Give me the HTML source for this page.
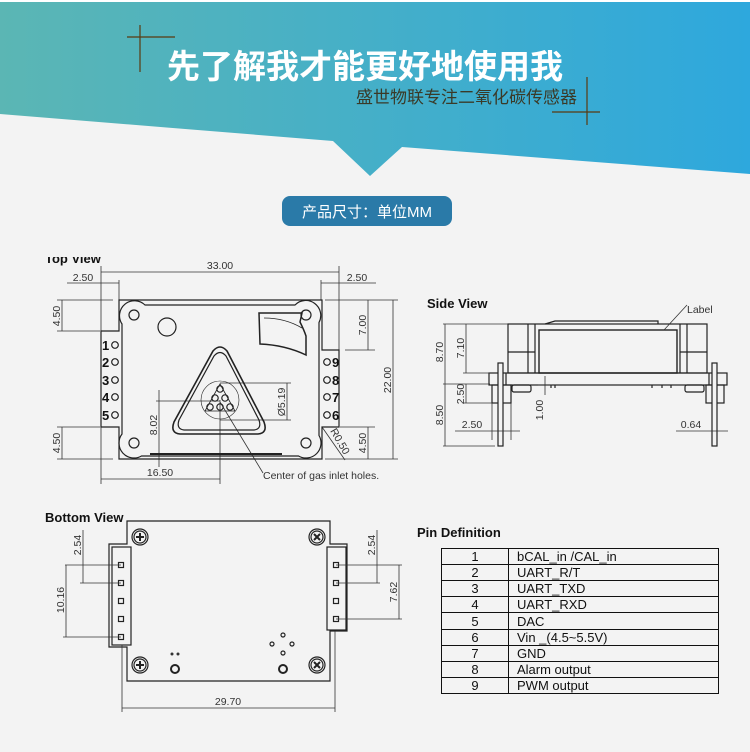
<!DOCTYPE html>
<html><head><meta charset="utf-8"><style>
html,body{margin:0;padding:0;background:#f3f3f3;}
svg{display:block;}
.d{font-family:"Liberation Sans",sans-serif;font-size:10.5px;fill:#333;}
.b{font-family:"Liberation Sans",sans-serif;font-weight:bold;fill:#111;}
.l{stroke:#333;stroke-width:0.8;fill:none;}
.o{stroke:#222;stroke-width:1.2;fill:none;}
</style></head><body>
<svg width="750" height="752" viewBox="0 0 750 752" xmlns="http://www.w3.org/2000/svg">
<defs>
<linearGradient id="g" x1="0" x2="1" y1="0" y2="0"><stop offset="0" stop-color="#5bb6b4"/><stop offset="1" stop-color="#2ea8dd"/></linearGradient>
</defs>
<rect width="750" height="752" fill="#f3f3f3"/>
<path d="M0,2 H750 V174 L402,147 L370,176 L333,141 L0,114 Z" fill="url(#g)"/>
<rect width="750" height="2" fill="#fff"/>
<g stroke="#5a3a10" stroke-width="1.2">
<line x1="140" y1="25" x2="140" y2="72"/><line x1="127" y1="37" x2="175" y2="37"/>
<line x1="587" y1="77" x2="587" y2="125"/><line x1="552" y1="112" x2="600" y2="112"/>
</g>
<text x="365" y="78" text-anchor="middle" font-family="'Liberation Sans','Noto Sans CJK SC',sans-serif" font-weight="bold" font-size="33" fill="#fff">先了解我才能更好地使用我</text>
<text x="577" y="103" text-anchor="end" font-family="'Liberation Sans','Noto Sans CJK SC',sans-serif" font-size="17" fill="#3a3a28">盛世物联专注二氧化碳传感器</text>
<rect x="282" y="196" width="170" height="30" rx="8" fill="#2a7aa8"/>
<text x="367" y="217" text-anchor="middle" font-family="'Liberation Sans','Noto Sans CJK SC',sans-serif" font-size="15" fill="#fff">产品尺寸：单位MM</text>

<!-- TOP VIEW -->
<text class="b" x="45" y="263" font-size="13">Top View</text>
<rect x="40" y="240" width="80" height="17" fill="#f3f3f3"/>
<g class="l">
<line x1="101" y1="272" x2="339" y2="272"/>
<line x1="101" y1="266" x2="101" y2="332"/><line x1="101" y1="427" x2="101" y2="484"/>
<line x1="339" y1="266" x2="339" y2="350"/>
<line x1="67" y1="283" x2="119" y2="283"/><line x1="119" y1="280" x2="119" y2="300"/>
<line x1="321" y1="283" x2="376" y2="283"/><line x1="321" y1="280" x2="321" y2="300"/>
<line x1="62" y1="300" x2="62" y2="331"/><line x1="57" y1="300" x2="113" y2="300"/><line x1="57" y1="331" x2="100" y2="331"/>
<line x1="62" y1="427" x2="62" y2="459"/><line x1="57" y1="427" x2="100" y2="427"/><line x1="57" y1="459" x2="113" y2="459"/>
<line x1="368" y1="300" x2="368" y2="350"/><line x1="325" y1="300" x2="398" y2="300"/><line x1="345" y1="350" x2="375" y2="350"/>
<line x1="393" y1="300" x2="393" y2="459"/>
<line x1="368" y1="427" x2="368" y2="459"/><line x1="340" y1="427" x2="375" y2="427"/><line x1="325" y1="459" x2="398" y2="459"/>
<line x1="287" y1="383" x2="287" y2="420"/><line x1="220" y1="383" x2="291" y2="383"/><line x1="220" y1="420" x2="291" y2="420"/>
<line x1="159" y1="390" x2="159" y2="467"/><line x1="156" y1="401" x2="220" y2="401"/>
<line x1="101" y1="479" x2="220" y2="479"/><line x1="220" y1="400" x2="220" y2="484"/>
<line x1="220" y1="402" x2="263" y2="473"/>
<line x1="322" y1="427" x2="345" y2="460"/>
</g>
<text class="d" x="220" y="269" text-anchor="middle">33.00</text>
<text class="d" x="83" y="281" text-anchor="middle">2.50</text>
<text class="d" x="357" y="281" text-anchor="middle">2.50</text>
<text class="d" transform="translate(60,316) rotate(-90)" text-anchor="middle">4.50</text>
<text class="d" transform="translate(60,443) rotate(-90)" text-anchor="middle">4.50</text>
<text class="d" transform="translate(366,325) rotate(-90)" text-anchor="middle">7.00</text>
<text class="d" transform="translate(391,380) rotate(-90)" text-anchor="middle">22.00</text>
<text class="d" transform="translate(366,443) rotate(-90)" text-anchor="middle">4.50</text>
<text class="d" transform="translate(285,402) rotate(-90)" text-anchor="middle">Ø5.19</text>
<text class="d" transform="translate(157,425) rotate(-90)" text-anchor="middle">8.02</text>
<text class="d" transform="translate(337,443) rotate(60)" text-anchor="middle">R0.50</text>
<text class="d" x="160" y="476" text-anchor="middle">16.50</text>
<text class="d" x="263" y="479" font-size="12.5">Center of gas inlet holes.</text>
<path class="o" d="M119,300 H322 V350 H339 V427 H322 V459 H119 V427 H101 V331 H119 Z"/>
<path class="o" d="M145,305 H295 A15,15 0 0 1 319,322.5 V435.5 A15,15 0 0 1 298.5,456 H141.5 A15,15 0 0 1 122,434 V324 A15,15 0 0 1 145,305 Z"/>
<line x1="150" y1="454" x2="282" y2="454" stroke="#222" stroke-width="2"/>
<g class="o">
<circle cx="134" cy="315" r="5"/><circle cx="306" cy="315" r="5"/><circle cx="134" cy="443" r="5"/><circle cx="306" cy="443" r="5"/>
<circle cx="167" cy="327" r="9"/>
<path d="M259,313 H302 L300,322 Q304,330 306,336 V355 Q285,345 260,344 Z" stroke-width="1.5"/>
<path d="M264,318 Q285,318 302,328" stroke-width="0.8"/>
<path d="M213,351 Q220,343 227,351 L264,422 Q268,433 258,434 H180 Q170,433 174,422 Z" stroke-width="1.6"/>
<path d="M214,356 Q220,349 226,356 L259,420 Q262,429 254,430 H184 Q176,429 179,420 Z" stroke-width="1.2"/>
<circle cx="220" cy="400" r="19" stroke-width="0.6"/>
<path d="M220,384 L235,411 H205 Z" stroke-width="0.8"/>
<circle cx="220" cy="389" r="3.2"/><circle cx="215" cy="398" r="3.2"/><circle cx="225" cy="398" r="3.2"/>
<circle cx="210" cy="407" r="3.2"/><circle cx="220" cy="407" r="3.2"/><circle cx="230" cy="407" r="3.2"/>
</g>
<g class="b" font-size="13">
<text x="102" y="350">1</text><text x="102" y="367">2</text><text x="102" y="385">3</text><text x="102" y="402">4</text><text x="102" y="420">5</text>
<text x="332" y="367">9</text><text x="332" y="385">8</text><text x="332" y="402">7</text><text x="332" y="420">6</text>
</g>
<g class="o" stroke-width="1.4">
<circle cx="115" cy="345" r="3.3"/><circle cx="115" cy="362" r="3.3"/><circle cx="115" cy="380" r="3.3"/><circle cx="115" cy="397" r="3.3"/><circle cx="115" cy="415" r="3.3"/>
<circle cx="327" cy="362" r="3.3"/><circle cx="327" cy="380" r="3.3"/><circle cx="327" cy="397" r="3.3"/><circle cx="327" cy="415" r="3.3"/>
</g>

<!-- SIDE VIEW -->
<text class="b" x="427" y="308" font-size="13">Side View</text>
<g class="o">
<rect x="508" y="324" width="199" height="49"/>
<line x1="528" y1="324" x2="528" y2="373"/><line x1="535" y1="324" x2="535" y2="373"/>
<line x1="680" y1="324" x2="680" y2="373"/><line x1="687" y1="324" x2="687" y2="373"/>
<rect x="539" y="330" width="138" height="43" stroke-width="1.4"/>
<line x1="508" y1="352" x2="535" y2="352"/><line x1="680" y1="352" x2="707" y2="352"/>
<path d="M545,324 L555,321 H658 V324"/>
<rect x="489" y="373" width="238" height="12"/>
<line x1="506" y1="373" x2="506" y2="385"/><line x1="709" y1="373" x2="709" y2="385"/>
<rect x="492" y="385" width="19" height="18"/><rect x="706" y="385" width="18" height="18"/>
<rect x="498" y="363" width="5" height="83" fill="#f3f3f3"/><rect x="712" y="363" width="5" height="83" fill="#f3f3f3"/>
<rect x="512" y="385" width="19" height="7" rx="2"/><rect x="685" y="385" width="19" height="7" rx="2"/>
<path d="M551,385v3M555,385v3M652,385v3M662,385v3M671,385v3"/>
</g>
<g class="l">
<line x1="443" y1="324" x2="508" y2="324"/><line x1="463" y1="373" x2="490" y2="373"/>
<line x1="443" y1="384" x2="490" y2="384"/><line x1="463" y1="403" x2="492" y2="403"/>
<line x1="443" y1="446" x2="495" y2="446"/>
<line x1="445" y1="324" x2="445" y2="446"/><line x1="466" y1="324" x2="466" y2="373"/><line x1="466" y1="384" x2="466" y2="403"/>
<line x1="545" y1="376" x2="545" y2="395"/><line x1="538" y1="385" x2="552" y2="385"/>
<line x1="455" y1="431" x2="520" y2="431"/><line x1="492" y1="403" x2="492" y2="440"/><line x1="511" y1="403" x2="511" y2="440"/>
<line x1="676" y1="431" x2="728" y2="431"/>
<line x1="664" y1="330" x2="687" y2="305"/>
</g>
<text class="d" transform="translate(443,352) rotate(-90)" text-anchor="middle">8.70</text>
<text class="d" transform="translate(464,348) rotate(-90)" text-anchor="middle">7.10</text>
<text class="d" transform="translate(464,394) rotate(-90)" text-anchor="middle">2.50</text>
<text class="d" transform="translate(443,415) rotate(-90)" text-anchor="middle">8.50</text>
<text class="d" transform="translate(543,410) rotate(-90)" text-anchor="middle">1.00</text>
<text class="d" x="472" y="428" text-anchor="middle">2.50</text>
<text class="d" x="691" y="428" text-anchor="middle">0.64</text>
<text class="d" x="687" y="313" font-size="12">Label</text>

<!-- BOTTOM VIEW -->
<text class="b" x="45" y="522" font-size="13">Bottom View</text>
<path class="o" d="M127,521 H330 V544 H347 V631 H330 V681 H127 V647 H109 V544 H127 Z"/>
<rect class="o" x="112" y="547" width="19" height="98"/>
<rect class="o" x="327" y="547" width="19" height="83"/>
<g class="o" stroke-width="1">
<rect x="118.5" y="562.5" width="5" height="5"/><rect x="118.5" y="580.5" width="5" height="5"/><rect x="118.5" y="598.5" width="5" height="5"/><rect x="118.5" y="616.5" width="5" height="5"/><rect x="118.5" y="634.5" width="5" height="5"/>
<rect x="333.5" y="562.5" width="5" height="5"/><rect x="333.5" y="580.5" width="5" height="5"/><rect x="333.5" y="598.5" width="5" height="5"/><rect x="333.5" y="616.5" width="5" height="5"/>
<circle cx="140" cy="537" r="8"/><circle cx="140" cy="537" r="6"/><path d="M136,537h8M140,533v8" stroke-width="2"/>
<circle cx="140" cy="665" r="8"/><circle cx="140" cy="665" r="6"/><path d="M136,665h8M140,661v8" stroke-width="2"/>
<circle cx="317" cy="537" r="8"/><circle cx="317" cy="537" r="6"/><path d="M314,534l6,6M320,534l-6,6" stroke-width="2"/>
<circle cx="317" cy="665" r="8"/><circle cx="317" cy="665" r="6"/><path d="M314,662l6,6M320,662l-6,6" stroke-width="2"/>
<circle cx="283" cy="635" r="2"/><circle cx="272" cy="644" r="2"/><circle cx="292" cy="644" r="2"/><circle cx="283" cy="653" r="2"/>
<circle cx="175" cy="669" r="4" stroke-width="2"/><circle cx="283" cy="669" r="4" stroke-width="2"/>
</g>
<circle cx="172" cy="654" r="1.5" fill="#333"/><circle cx="178" cy="654" r="1.5" fill="#333"/>
<g class="l">
<line x1="83" y1="530" x2="83" y2="583"/><line x1="65" y1="565" x2="121" y2="565"/><line x1="80" y1="583" x2="121" y2="583"/>
<line x1="66" y1="565" x2="66" y2="637"/><line x1="63" y1="637" x2="121" y2="637"/>
<line x1="377" y1="530" x2="377" y2="583"/><line x1="336" y1="565" x2="402" y2="565"/><line x1="336" y1="583" x2="380" y2="583"/>
<line x1="399" y1="565" x2="399" y2="619"/><line x1="336" y1="619" x2="402" y2="619"/>
<line x1="122" y1="708" x2="335" y2="708"/><line x1="122" y1="645" x2="122" y2="712"/><line x1="335" y1="631" x2="335" y2="712"/>
</g>
<text class="d" transform="translate(81,545) rotate(-90)" text-anchor="middle">2.54</text>
<text class="d" transform="translate(64,600) rotate(-90)" text-anchor="middle">10.16</text>
<text class="d" transform="translate(375,545) rotate(-90)" text-anchor="middle">2.54</text>
<text class="d" transform="translate(397,592) rotate(-90)" text-anchor="middle">7.62</text>
<text class="d" x="228" y="705" text-anchor="middle">29.70</text>

<!-- PIN TABLE -->
<text class="b" x="417" y="537" font-size="13">Pin Definition</text>
<g stroke="#111" stroke-width="1" fill="none">
<rect x="441.5" y="548.5" width="277" height="145"/>
<line x1="508.5" y1="548" x2="508.5" y2="694"/>
<path d="M441,564.5H719M441,580.5H719M441,596.5H719M441,612.5H719M441,629.5H719M441,645.5H719M441,661.5H719M441,677.5H719"/>
</g>
<g font-family="'Liberation Sans',sans-serif" font-size="13" fill="#111">
<text x="475" y="561" text-anchor="middle">1</text><text x="517" y="561">bCAL_in /CAL_in</text>
<text x="475" y="577" text-anchor="middle">2</text><text x="517" y="577">UART_R/T</text>
<text x="475" y="593" text-anchor="middle">3</text><text x="517" y="593">UART_TXD</text>
<text x="475" y="609" text-anchor="middle">4</text><text x="517" y="609">UART_RXD</text>
<text x="475" y="626" text-anchor="middle">5</text><text x="517" y="626">DAC</text>
<text x="475" y="642" text-anchor="middle">6</text><text x="517" y="642">Vin _(4.5~5.5V)</text>
<text x="475" y="658" text-anchor="middle">7</text><text x="517" y="658">GND</text>
<text x="475" y="674" text-anchor="middle">8</text><text x="517" y="674">Alarm output</text>
<text x="475" y="690" text-anchor="middle">9</text><text x="517" y="690">PWM output</text>
</g>
</svg>
</body></html>
